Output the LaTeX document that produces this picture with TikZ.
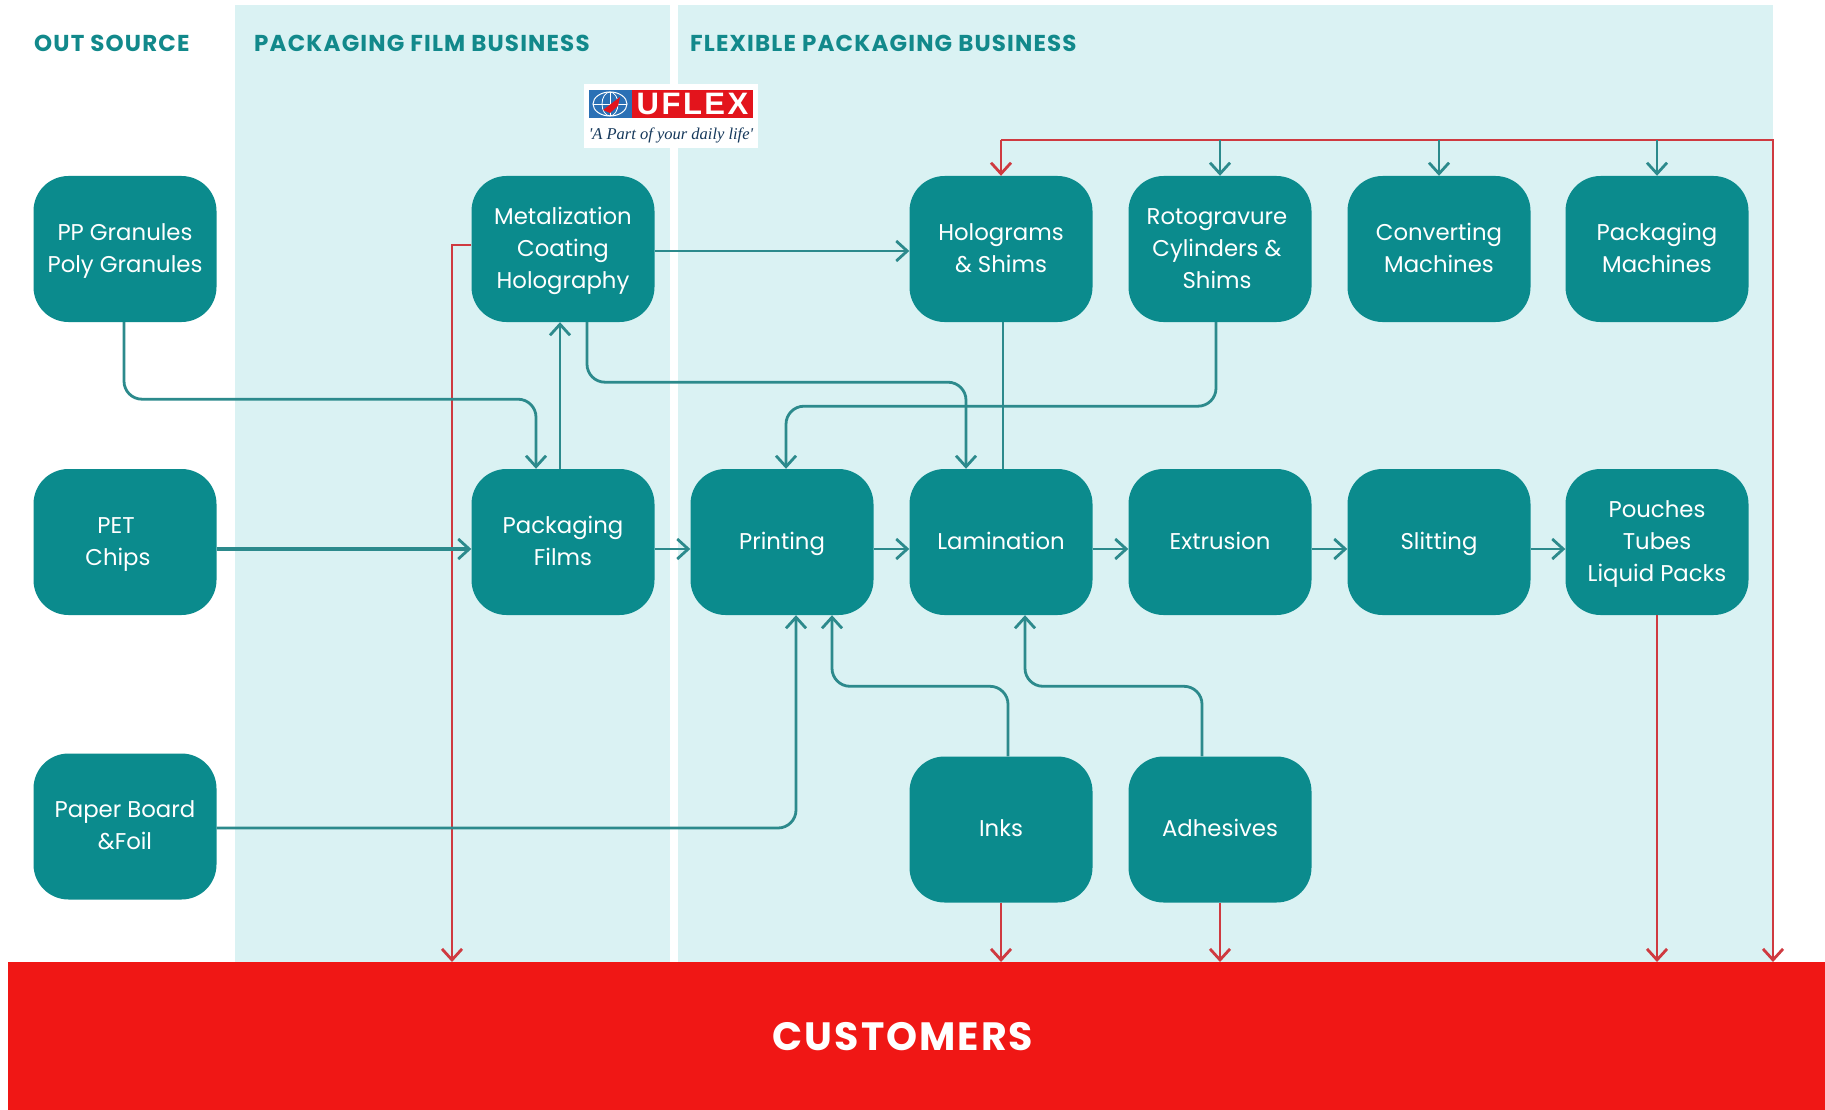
\documentclass[tikz,border=0pt]{standalone}
\usepackage{fontspec}
\setmainfont{Poppins}
\newfontfamily\headfont[LetterSpace=5]{Poppins}
\newfontfamily\custfont[LetterSpace=5]{Poppins}
\newfontfamily\tagfont{Liberation Serif}
\newfontfamily\logofont[LetterSpace=8]{Liberation Sans}
\usetikzlibrary{arrows.meta,calc}
\definecolor{boxteal}{HTML}{0B8B8D}
\definecolor{lineteal}{HTML}{2C8A8C}
\definecolor{headteal}{HTML}{12898B}
\definecolor{panel}{HTML}{DAF2F3}
\definecolor{custred}{HTML}{F01715}
\definecolor{linered}{HTML}{CF3A40}
\definecolor{logoblue}{HTML}{2A70B5}
\definecolor{logored}{HTML}{E3141C}
\newcommand\bl[1]{\rule[-7pt]{0pt}{28pt}#1}
\tikzset{
  x=1pt,y=-1pt,
  panelbox/.style={fill=panel,draw=none},
  box/.style={fill=boxteal,draw=none,rounded corners=35pt,minimum width=183pt,minimum height=146pt,inner sep=0pt,
    align=center,text=white,font=\fontsize{22.8}{32}\selectfont},
  head/.style={anchor=west,text=headteal,inner sep=0pt,font=\headfont\fontsize{23}{24}\selectfont\bfseries},
  tl/.style={draw=lineteal,line width=2.8pt,rounded corners=18pt},
  rl/.style={draw=linered,line width=2.8pt},
  tarrow/.style={tl,-{Straight Barb[length=11pt,width=20pt,line width=2.8pt]}},
  rarrow/.style={rl,-{Straight Barb[length=11pt,width=20pt,line width=2.8pt]}},
}
\begin{document}
\begin{tikzpicture}
\useasboundingbox (0,0) rectangle (1825,1110);
\fill[white] (0,0) rectangle (1825,1110);
\fill[panelbox] (235,5) rectangle (670,965);
\fill[panelbox] (678,5) rectangle (1773,965);
\node[fill=custred,minimum width=1817pt,minimum height=148pt,inner sep=0pt,anchor=north west] (cust) at (8,962) {};
\node[text=white,inner sep=0pt,font=\custfont\fontsize{39.5}{42}\selectfont\bfseries] (custlabel) at (903,1037) {CUSTOMERS};

\node[head] (h1) at (34,43) {OUT SOURCE};
\node[head] (h2) at (254,43) {PACKAGING FILM BUSINESS};
\node[head] (h3) at (690,43) {FLEXIBLE PACKAGING BUSINESS};

% logo
\fill[white] (584,84) rectangle (758,148);
\fill[logoblue] (589,90) rectangle (632,118);
\node[fill=logored,minimum width=121pt,minimum height=28pt,inner sep=0pt,text=white,font=\logofont\fontsize{31}{31}\selectfont\bfseries] (logo) at (692.5,104) {UFLEX};
\draw[white,line width=1pt] (610,104) circle (17 and 12);
\draw[white,line width=.8pt] (610,92) -- (610,116) (593,104) -- (627,104);
\draw[white,line width=.8pt] (610,104) circle (8 and 12);
\fill[logored] (603,110) -- (620,97) -- (618,106) -- (610,113) -- cycle;
\node[text=logoblue!50!black,inner sep=0pt,font=\tagfont\itshape\fontsize{16.5}{17}\selectfont] (tag) at (671,135) {'A Part of your daily life'};

% boxes
\node[box] (pp) at (125,249) {\bl{PP Granules}\\\bl{Poly Granules}};
\node[box] (pet) at (125,542) {\bl{\hspace*{-18pt}PET}\\\bl{\hspace*{-14pt}Chips}};
\node[box] (paper) at (125,826.5) {\bl{Paper Board}\\\bl{\&Foil}};
\node[box] (metal) at (563,249) {\bl{Metalization}\\\bl{Coating}\\\bl{Holography}};
\node[box] (films) at (563,542) {\bl{Packaging}\\\bl{Films}};
\node[box] (print) at (782,542) {\bl{Printing}};
\node[box] (holo) at (1001,249) {\bl{Holograms}\\\bl{\& Shims}};
\node[box] (roto) at (1220,249) {\bl{\hspace*{-6pt}Rotogravure}\\\bl{\hspace*{-6pt}Cylinders \&}\\\bl{\hspace*{-6pt}Shims}};
\node[box] (conv) at (1439,249) {\bl{Converting}\\\bl{Machines}};
\node[box] (pack) at (1657,249) {\bl{Packaging}\\\bl{Machines}};
\node[box] (lam) at (1001,542) {\bl{Lamination}};
\node[box] (ext) at (1220,542) {\bl{Extrusion}};
\node[box] (slit) at (1439,542) {\bl{Slitting}};
\node[box] (pouch) at (1657,542) {\bl{Pouches}\\\bl{Tubes}\\\bl{Liquid Packs}};
\node[box] (inks) at (1001,829.5) {\bl{Inks}};
\node[box] (adh) at (1220,829.5) {\bl{Adhesives}};

% free coordinates
\coordinate (topleft) at (1001,140);
\coordinate (topright) at (1773,140);
\coordinate (rightend) at (1773,962);
\coordinate (redx) at (452,962);

% red connectors
\draw[rl] ([yshift=4pt]metal.west) -| ([yshift=10pt]redx);
\draw[rarrow] (redx |- metal.south) -- (redx);
\draw[rarrow] (topleft) -- (topright) -- (rightend);
\draw[rarrow] (topleft) -- (holo.north);
\draw[rarrow] (pouch.south) -- (pouch.south |- cust.north);
\draw[rarrow] (inks.south) -- (inks.south |- cust.north);
\draw[rarrow] (adh.south) -- (adh.south |- cust.north);

% teal connectors
\draw[tarrow] ([yshift=-2pt]metal.east) -- ([yshift=-2pt]holo.west);
\draw[tarrow] ([xshift=-1pt]pp.south) -- ++(0,77) -| ([xshift=-27pt]films.north);
\draw[tarrow] ([xshift=-3pt]films.north) -- ([xshift=-3pt]metal.south);
\draw[tarrow] ([xshift=24pt]metal.south) -- ++(0,60) -| ([xshift=-35pt]lam.north);
\draw[tl] ([xshift=2pt]holo.south) -- ([xshift=2pt]lam.north);
\draw[tarrow] ([xshift=-4pt]roto.south) -- ++(0,84) -| ([xshift=4pt]print.north);
\draw[tarrow,line width=3.4pt] ([yshift=-7pt]pet.east) -- ([yshift=-7pt]films.west);
\draw[tarrow] ([yshift=-7pt]films.east) -- ([yshift=-7pt]print.west);
\draw[tarrow] ([yshift=-7pt]print.east) -- ([yshift=-7pt]lam.west);
\draw[tarrow] ([yshift=-7pt]lam.east) -- ([yshift=-7pt]ext.west);
\draw[tarrow] ([yshift=-7pt]ext.east) -- ([yshift=-7pt]slit.west);
\draw[tarrow] ([yshift=-7pt]slit.east) -- ([yshift=-7pt]pouch.west);
\draw[tarrow] ([yshift=-1.5pt]paper.east) -| ([xshift=14pt]print.south);
\draw[tarrow] ([xshift=7pt]inks.north) -- ++(0,-70) -| ([xshift=50pt]print.south);
\draw[tarrow] ([xshift=-18pt]adh.north) -- ++(0,-70) -| ([xshift=24pt]lam.south);
\draw[tarrow] (topleft -| roto.north) -- (roto.north);
\draw[tarrow] (topleft -| conv.north) -- (conv.north);
\draw[tarrow] (topleft -| pack.north) -- (pack.north);
\end{tikzpicture}
\end{document}
